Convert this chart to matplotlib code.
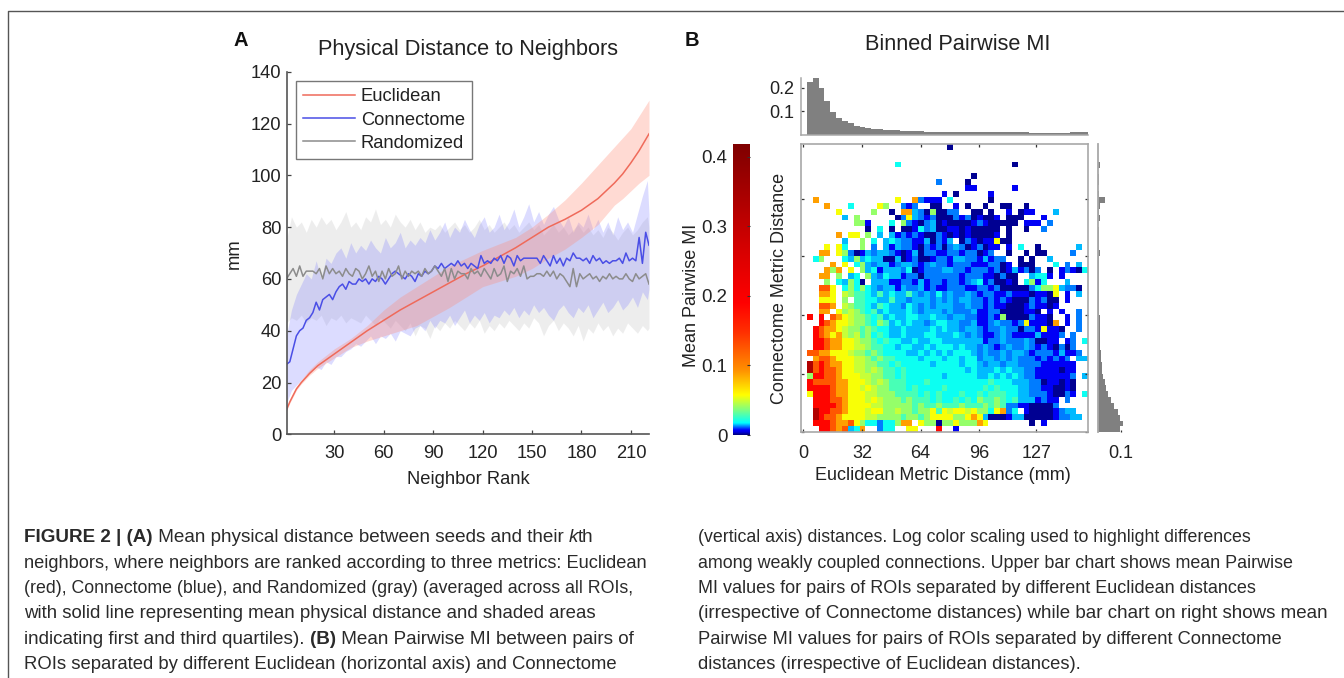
import numpy as np
import matplotlib
matplotlib.use("Agg")
import matplotlib.pyplot as plt
from matplotlib.colors import LinearSegmentedColormap
from matplotlib.lines import Line2D

W, H = 1344, 678
plt.rcParams['font.family'] = ['Liberation Sans', 'DejaVu Sans']

# ---------- panel A data ----------
euclid_ranks = [1, 3, 5, 7, 10, 15, 20, 30, 40, 50, 60, 70, 80, 90, 100, 110, 120, 130, 140, 150, 160, 170, 180, 190, 200, 205, 210, 215, 221]
euclid_mean = [9.5, 12.5, 15, 17.5, 20, 23.5, 26.5, 31, 35.5, 40, 44, 48, 51.5, 55, 58.5, 62, 65, 68.5, 72, 76, 80, 83, 86.5, 91, 97, 100.5, 104.8, 109.5, 116]
euclid_q1 = [9, 12, 14.5, 17, 19.5, 22.8, 25.5, 29.5, 33.5, 36, 38, 40, 42, 45.5, 49, 53, 57, 59, 61, 64, 68, 71.5, 76, 81, 88.5, 91, 94, 97, 100]
euclid_q3 = [10, 13.5, 16, 18.5, 21, 25, 28, 33, 37, 42, 48, 53, 57, 61, 65, 68, 71, 73.5, 76, 80, 85, 90.5, 97, 104, 111, 114.5, 118, 123, 129]

mean_ranks = list(range(1, 222, 2))
connectome_mean = [27,28,33,38,40,41,44,45,47,51,
 48,52,53,54,52,55,57,58,56,59,
 58,58,60,59,60,58,60,59,61,60,
 58,60,62,63,62,61,60,62,61,59,
 62,61,63,62,63,65,64,66,64,65,
 66,65,67,65,66,64,66,65,64,69,
 66,67,66,68,67,69,66,69,68,65,
 69,67,68,68,68,68,68,66,69,67,
 65,69,66,68,65,68,67,70,68,68,
 67,68,66,69,67,68,66,67,66,67,
 67,68,66,70,67,68,67,76,66,78,
 73]
randomized_mean = [60,62,64,61,65,61,63,63,63,62,
 64,60,65,62,64,62,63,61,64,62,
 61,64,63,60,62,65,61,63,59,63,
 60,64,61,62,65,60,63,61,63,62,
 63,61,64,62,63,65,63,61,64,59,
 64,60,63,62,62,60,64,62,63,61,
 64,62,60,64,61,62,65,59,63,62,
 64,61,65,60,61,61,62,62,61,63,
 61,63,60,62,61,59,57,64,57,62,
 60,61,62,60,61,59,61,60,62,60,
 61,60,60,62,60,59,62,60,61,62,
 58]

band_ranks = list(range(1, 221, 3)) + [221]
randomized_q3 = [75,84,80,82,78,83,80,84,81,83,79,82,86,80,82,79,84,82,87,81,83,80,85,82,80,83,79,82,78,80,
 79,81,78,80,82,79,81,78,80,83,79,81,78,80,82,
 79,81,78,80,82,79,81,77,79,81,78,80,77,79,81,
 78,80,77,79,76,80,78,75,78,80,77,79,82,84,80]
randomized_q1 = [43,45,44,46,43,45,44,46,42,45,44,46,43,45,44,43,46,44,42,45,43,41,44,42,40,43,38,42,41,37,
 42,40,43,41,44,42,40,43,41,44,39,42,40,43,41,
 44,42,40,43,41,45,43,38,42,44,40,43,41,38,42,
 36,41,39,43,40,42,38,41,39,43,41,39,42,40,41]
connectome_q3 = [38,48,54,58,62,60,67,60,68,66,70,72,68,74,70,73,71,75,72,70,76,72,74,78,72,75,73,76,74,79,
 75,78,82,76,80,78,83,79,76,81,84,78,80,85,79,
 82,87,80,84,89,82,86,81,85,88,83,80,84,78,82,
 80,85,79,83,78,82,77,84,79,82,78,85,92,98,85]
connectome_q1 = [12,17,19,21,23,24,26,25,28,27,30,30,32,33,35,34,36,38,35,38,37,39,36,40,39,38,41,42,40,44,
 41,44,43,46,42,45,48,43,46,44,47,43,46,45,48,
 46,49,45,48,46,50,47,49,46,44,48,50,47,45,49,
 47,50,45,48,51,47,49,52,48,50,53,49,55,52,56]

legend_labels = ['Euclidean', 'Connectome', 'Randomized']
a_xticks = [30, 60, 90, 120, 150, 180, 210]
a_yticks = [0, 20, 40, 60, 80, 100, 120, 140]

# ---------- panel B data ----------
# one row per Connectome bin (top to bottom); one character per Euclidean bin
level_values = {'0': .001, '1': .0065, '2': .012, '3': .0145, '4': .019, 'g': .028, '5': .040, 'y': .048,
                '6': .056, '7': .088, '8': .125, '9': .185, 'D': .33}
heat_rows = [
 ".......... .......... .....0.... .......... .........",
 ".......... .......... .......... .......... .........",
 ".......... .......... .......... .......... .........",
 ".......... ......4... .......... ......0... .........",
 ".......... .......... .......... .......... .........",
 ".......... .......... .........0 .......... .........",
 ".......... .......... ...2....0. .......... .........",
 ".......... .......... ........11 ......1... .........",
 ".......... .......... ....1.0... ..1....... .........",
 "..7....... ......6..7 2111.4.... ..0....... .........",
 "....7...4. ...65..212 ..00..1.0. .0..00..0. .........",
 "......6... ..5..0.773 2050022..0 0.0..1.011 ...3.....",
 ".......3.5 ......0263 2120002120 1001.000.. .1.......",
 ".........5 51...4.521 0230100001 2100000.11 1.2......",
 ".......... .0.4.0.001 4230011010 0000.0..0. .2.......",
 "......7.66 .5.3.31212 1002101010 0001.0.... .........",
 ".......3.. 5.4.343221 130213.021 011600.... .........",
 "....6.64.. 5.2.313221 0212023201 2011.1.4.. 0......3.",
 "...77.6520 1323321013 0221122122 012..0..0. 00....2..",
 "..45...435 3433003012 0012213322 13122..0.0 ..3......",
 ".....7.6.4 5323312332 1232212221 112201.000 ...4.2.3.",
 "....757.6. 5341333240 1222332212 2212013120 2.0.12104",
 "...77.5.34 .532433122 0222222122 2110200..3 441.1....",
 "....5.4354 0.33311221 3122122123 4120010.45 14...3...",
 "...886.454 5432331322 3121122211 2212000002 45563220.",
 "...776.y5g g43g3433g3 2324232232 1221121110 1106.1.3.",
 "...666.5.g g4433g3323 3323232332 2121210002 1200.1...",
 "...887.y5g g43g433243 2323332232 2121100012 1101.....",
 "...77.65y5 g4g3433343 2333232223 1122000011 0.1.1..2.",
 ".9.9.876y5 5g4g343344 3343323322 1121500002 110..1.2.",
 "...98766y5 5g45g34343 3234433223 1123221261 1107.1.2.",
 "..98776y55 g5g4433433 3343433233 2122322022 16110..2.",
 "..98767y5y g54g433433 3443334323 2112321111 31112.2..",
 "..9987766y 55g4g44334 3344333333 3122322232 0011.12.4",
 "..9987766y y5gg443443 3434443433 2321232232 1210202..",
 ".8877666y5 5g5g444433 4343434443 2322323321 22213112.",
 "..7887666y y5g5gg4444 3444344344 2332323222 121212.33",
 ".D8987766y y55gg4g444 4434444344 3233233222 2111111..",
 ".D8988766y y5y5gg4g44 4444444434 3334343322 1111011..",
 ".599887666 yy55gg4g44 4444344444 3343434322 1111112.3",
 ".988887766 6y5y5ggg44 4g44444444 44g4443332 2011010..",
 ".999987766 y6y55ggg4g 4444g44444 4g4g444332 2110010..",
 ".699987766 6yy555gggg 4g4g444g44 g4ggg44332 2210021.4",
 "..99988766 6y6y555g5g gg4g44g4g4 5gg5g4g333 1211.2...",
 "..99998766 66yy55555g 5gg5ggg5gg g5g5g22110 0002.....",
 "..D9988766 6y6655y55g 556g6y66y6 5546724.10 0001233..",
 "..D9887666 6yy5555g55 g566665567 6300013300 00012233.",
 "..99987786 544244577. 6550556555 76.......0 .1.......",
 "...9987834 7..244..66 ...9..1... .......... .........",
]
top_hist = [0, .226, .245, .20, .144, .098, .07, .058, .048, .038, .033, .03, .026, .024, .022, .02, .018, .017, .016, .015,
            .014, .013, .012, .012, .011, .011, .01, .01, .01, .011, .011, .01, .01, .01, .01, .011, .011, .01, .01, .009,
            .009, .008, .009, .008, .008, .009, .012, .013, .013]
right_hist = [0, 0, 0, .011, 0, .004, .004, .003, .006, .03, .012, .007, .01, .003, .004, .007, .005, .004, .009, .005,
              .005, .006, .005, .006, .006, .006, .007, .007, .007, .008, .008, .009, .01, .01, .011, .013, .014, .017, .02, .024,
              .03, .037, .045, .055, .07, .088, .097, .107, .095]
b_ticks = [0, 32, 64, 96, 127]
cb_ticks = [0, .1, .2, .3, .4]
cmap_values = [0, .004, .007, .012, .017, .036, .057, .093, .147, .19, .25, .418]
cmap_colors = ['#00007f', '#0000e0', '#0000ff', '#0080ff', '#00ffff', '#80ff80', '#ffff00',
               '#ff9000', '#ff3000', '#ff0000', '#e00000', '#7f0000']

# ---------- caption ----------
caption_left = [
 [("FIGURE 2 | (A)", 'bold'), (" Mean physical distance between seeds and their ", 'normal'), ("k", 'italic'), ("th", 'normal')],
 [("neighbors, where neighbors are ranked according to three metrics: Euclidean", 'normal')],
 [("(red), Connectome (blue), and Randomized (gray) (averaged across all ROIs,", 'normal')],
 [("with solid line representing mean physical distance and shaded areas", 'normal')],
 [("indicating first and third quartiles). ", 'normal'), ("(B)", 'bold'), (" Mean Pairwise MI between pairs of", 'normal')],
 [("ROIs separated by different Euclidean (horizontal axis) and Connectome", 'normal')],
]
caption_right = [
 "(vertical axis) distances. Log color scaling used to highlight differences",
 "among weakly coupled connections. Upper bar chart shows mean Pairwise",
 "MI values for pairs of ROIs separated by different Euclidean distances",
 "(irrespective of Connectome distances) while bar chart on right shows mean",
 "Pairwise MI values for pairs of ROIs separated by different Connectome",
 "distances (irrespective of Euclidean distances).",
]

fig = plt.figure(figsize=(W / 100, H / 100), dpi=100, facecolor='white')


def axpx(l, t, r, b):
    return fig.add_axes([l / W, 1 - b / H, (r - l) / W, (b - t) / H])


def tpx(x, y, s, **kw):
    kw.setdefault('ha', 'center')
    kw.setdefault('va', 'center')
    kw.setdefault('color', '#222222')
    return fig.text(x / W, 1 - y / H, s, **kw)


# outer frame
fig.add_artist(Line2D([7.5 / W, 7.5 / W, 1], [0, 1 - 10.5 / H, 1 - 10.5 / H], color='#555555', lw=1.0))

# ---------- panel A ----------
RED, BLUE, GRAY = '#ef6a5a', '#4a4ee6', '#8c8c8c'
ax = axpx(287, 71.7, 649, 434.3)
ax.fill_between(band_ranks, randomized_q1, randomized_q3, color='#9a9a9a', alpha=.17, lw=0)
ax.fill_between(band_ranks, connectome_q1, connectome_q3, color='#6e6eff', alpha=.24, lw=0)
ax.fill_between(euclid_ranks, euclid_q1, euclid_q3, color='#ff8c78', alpha=.32, lw=0)
l1, = ax.plot(euclid_ranks, euclid_mean, color=RED, lw=1.1, label=legend_labels[0])
l2, = ax.plot(mean_ranks, connectome_mean, color=BLUE, lw=1.1, label=legend_labels[1])
l3, = ax.plot(mean_ranks, randomized_mean, color=GRAY, lw=1.1, label=legend_labels[2])
ax.set_xlim(1.3, 221)
ax.set_ylim(0, 140)
ax.set_xticks(a_xticks)
ax.set_yticks(a_yticks)
ax.tick_params(direction='in', length=3, width=.9, color='#444444', labelsize=13.2, labelcolor='#222222', pad=4)
ax.tick_params(axis='x', pad=8)
for s in ('top', 'right'):
    ax.spines[s].set_visible(False)
for s in ('left', 'bottom'):
    ax.spines[s].set_color('#555555')
    ax.spines[s].set_linewidth(1.2)
ax.patch.set_alpha(0)
leg = ax.legend(handles=[l1, l2, l3], loc='upper left', bbox_to_anchor=((296 - 287) / 362, 1 - (81 - 71.7) / 362.6),
                borderaxespad=0, fontsize=13.2, handlelength=2.8, handletextpad=.33, labelspacing=.34,
                borderpad=.4, fancybox=False, framealpha=1, edgecolor='#777777', labelcolor='#222222')
leg.get_frame().set_linewidth(1.0)
tpx(468, 49, 'Physical Distance to Neighbors', fontsize=15.7)
tpx(241, 40, 'A', fontsize=14.5, fontweight='bold', color='#111111')
tpx(468, 479, 'Neighbor Rank', fontsize=13.2)
tpx(234, 254, 'mm', fontsize=13.2, rotation=90)

# ---------- panel B ----------
rows = [r.replace(' ', '') for r in heat_rows]
heat = np.array([[level_values.get(c, np.nan) for c in r] for r in rows])
cmap = LinearSegmentedColormap.from_list('mi', [(v / cmap_values[-1], c) for v, c in zip(cmap_values, cmap_colors)], N=1024)
cmap.set_bad('white')

x0, x1 = (801 - 803.3) / 1.834, (1087.7 - 803.3) / 1.834
y1 = (432.3 - 144.3) / 1.834
edges = np.linspace(x0, x1, 50)
centers = (edges[:-1] + edges[1:]) / 2
bw = edges[1] - edges[0]

ah = axpx(801, 144.3, 1087.7, 432.3)
ah.imshow(heat, cmap=cmap, vmin=0, vmax=cmap_values[-1], extent=[x0, x1, 0, y1], aspect='auto', interpolation='nearest')
ah.set_xticks(b_ticks)
ah.set_yticks(b_ticks)
ah.set_yticklabels([])
ah.tick_params(direction='in', length=2.5, width=.9, color='#333333', top=True, right=True, labelsize=13, labelcolor='#222222', pad=9)
for s in ah.spines.values():
    s.set_color('#a8a8a8')
    s.set_linewidth(1.2)

at = axpx(801, 77.7, 1087.7, 134.7)
at.bar(centers, top_hist, width=bw, color='#808080', lw=0)
at.set_xlim(x0, x1)
at.set_ylim(0, .243)
at.set_xticks([])
at.set_yticks([.1, .2])
at.set_yticklabels(['0.1', '0.2'])
at.tick_params(direction='in', length=2.5, width=.9, color='#333333', labelsize=13, labelcolor='#222222', pad=5)
for s in ('top', 'right'):
    at.spines[s].set_visible(False)
for s in ('left', 'bottom'):
    at.spines[s].set_color('#a8a8a8')
    at.spines[s].set_linewidth(1.1)

ar = axpx(1097.7, 144.3, 1128, 432.3)
ar.barh((y1 - (np.arange(49) + .5) * y1 / 49), right_hist, height=y1 / 49, color='#808080', lw=0)
ar.set_ylim(0, y1)
ar.set_xlim(0, .13)
ar.set_yticks([])
ar.set_xticks([.1])
ar.set_xticklabels(['0.1'])
ar.tick_params(direction='in', length=1.5, width=.9, color='#333333', labelsize=13, labelcolor='#222222', pad=9)
for s in ('top', 'right', 'bottom'):
    ar.spines[s].set_visible(False)
ar.spines['left'].set_color('#a8a8a8')
ar.spines['left'].set_linewidth(1.3)
ar.patch.set_alpha(0)

ac = axpx(733, 144.3, 750, 435)
grad = np.linspace(cmap_values[-1], 0, 512).reshape(-1, 1)
ac.imshow(grad, cmap=cmap, vmin=0, vmax=cmap_values[-1], extent=[0, 1, 0, cmap_values[-1]], aspect='auto')
ac.set_xticks([])
ac.set_yticks(cb_ticks)
ac.set_yticklabels(['0', '0.1', '0.2', '0.3', '0.4'])
ac.tick_params(direction='in', length=2, width=.8, color='#333333', labelsize=13.4, labelcolor='#222222', pad=4, left=False, right=True, labelleft=True)
for s in ac.spines.values():
    s.set_visible(False)

tpx(692, 40, 'B', fontsize=14.5, fontweight='bold', color='#111111')
tpx(958, 44, 'Binned Pairwise MI', fontsize=15.7)
tpx(943, 476, 'Euclidean Metric Distance (mm)', fontsize=13)
tpx(779, 288, 'Connectome Metric Distance', fontsize=13, rotation=90)
tpx(692, 295, 'Mean Pairwise MI', fontsize=13, rotation=90)

# ---------- caption text ----------
line_ys = [537.5, 563, 588.5, 613.5, 639, 664.5]
CAP = 13.05
left_scale = [1.042, 1.006, .976, 1.027, 1.042, 1.019]
right_scale = [.977, .987, .996, 1.038, 1.014, 1.013]
rend = fig.canvas.get_renderer()
for y, runs, k in zip(line_ys, caption_left, left_scale):
    x = 24
    for s, st in runs:
        kw = {'fontweight': 'bold'} if st == 'bold' else ({'fontstyle': 'italic'} if st == 'italic' else {})
        t = tpx(x, y, s, ha='left', fontsize=CAP * k, color='#2a2a2a', **kw)
        # advance by the advance width, keeping spaces at both ends
        w, _, _ = rend.get_text_width_height_descent(s.replace(' ', '\u00a0'), t.get_fontproperties(), False)
        x += w
for y, s, k in zip(line_ys, caption_right, right_scale):
    tpx(698, y, s, ha='left', fontsize=CAP * k, color='#2a2a2a')

fig.savefig('out.png', dpi=100, facecolor='white')
